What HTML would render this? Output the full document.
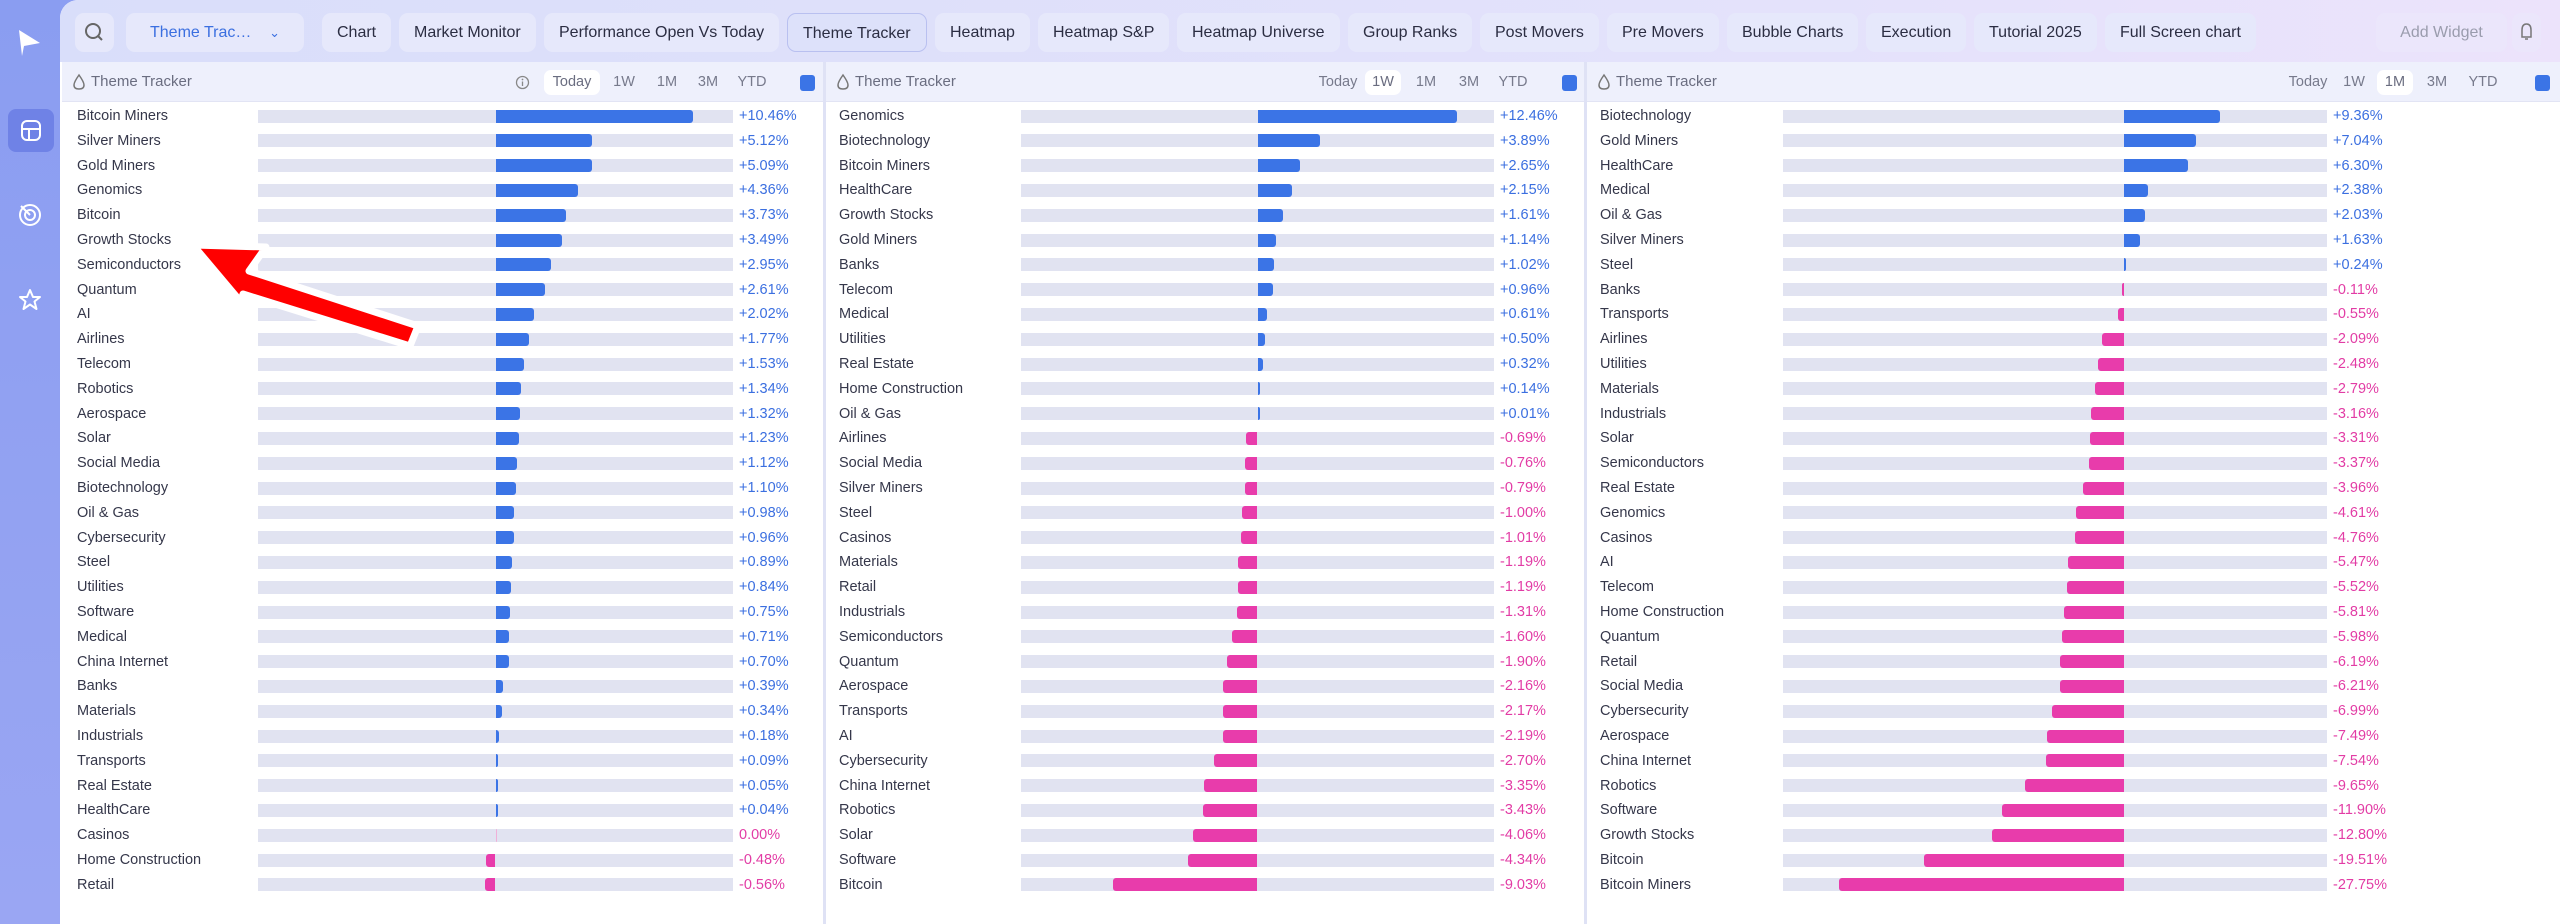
<!DOCTYPE html>
<html><head><meta charset="utf-8">
<style>
*{box-sizing:border-box;margin:0;padding:0}
body{width:2560px;height:924px;overflow:hidden;position:relative;font-family:"Liberation Sans",sans-serif;background:linear-gradient(180deg,#8c9ef2,#a7b0f5);}
.abs{position:absolute}
#sidebar{left:0;top:0;width:60px;height:924px;background:linear-gradient(180deg,#8a9df1,#9aa6f3)}
#main{left:60px;top:0;width:2500px;height:924px;background:#fff;border-top-left-radius:18px;overflow:hidden}
#topbar{left:0;top:0;width:2500px;height:62px;background:linear-gradient(90deg,#d9defa,#e4e2fb 70%,#ece3fb)}
.tab{position:absolute;top:13px;height:39px;line-height:39px;padding:0 15px;font-size:16px;color:#2b2d42;background:#e6e8fb;border-radius:9px;white-space:nowrap}
.panel{position:absolute;top:62px;height:862px;background:#fff}
.phead{position:absolute;left:0;top:0;height:40px;width:100%;background:#eef0fc;border-bottom:1px solid #e2e4f4}
.ptitle{position:absolute;top:0;line-height:40px;font-size:15px;color:#6a6d80}
.pbtn{position:absolute;top:8px;height:25px;line-height:25px;font-size:14.5px;color:#777a8c;text-align:center}
.pbtn.on{background:#fff;border-radius:7px;color:#6a6d80}
.sq{position:absolute;top:13px;width:15px;height:16px;background:#3b74e6;border-radius:3px}
.lbl{position:absolute;font-size:14.5px;color:#35374a;line-height:20px}
.val{position:absolute;font-size:14.5px;line-height:20px}
.trk{position:absolute;height:13px;background:#e1e3f1}
.bar{position:absolute;height:13px;border-radius:3px}
.div{position:absolute;top:62px;width:3px;height:862px;background:#dfe2f5}
</style></head><body>
<div id="sidebar" class="abs">
 <svg class="abs" style="left:16px;top:28px" width="26" height="30"><path d="M3 2 L24 15 L8 18 L6 28 Z" fill="#fff"/></svg>
 <div class="abs" style="left:8px;top:109px;width:46px;height:43px;background:#6f82e6;border-radius:8px">
  <svg width="46" height="43"><rect x="14" y="12" width="18" height="19" rx="5" fill="none" stroke="#fff" stroke-width="2"/><line x1="14" y1="20" x2="32" y2="20" stroke="#fff" stroke-width="2"/><line x1="21" y1="20" x2="21" y2="31" stroke="#fff" stroke-width="2"/></svg></div>
 <svg class="abs" style="left:17px;top:202px" width="26" height="26"><circle cx="13" cy="13" r="10" fill="none" stroke="#fff" stroke-width="2"/><circle cx="13" cy="13" r="5" fill="none" stroke="#fff" stroke-width="2"/><line x1="13" y1="13" x2="4" y2="4" stroke="#fff" stroke-width="2"/></svg>
 <svg class="abs" style="left:17px;top:287px" width="26" height="26"><path d="M13 3 L16 10 L23 10 L17.5 14.5 L19.5 22 L13 17.5 L6.5 22 L8.5 14.5 L3 10 L10 10 Z" fill="none" stroke="#fff" stroke-width="2" stroke-linejoin="round"/></svg>
</div>
<div id="main" class="abs">
 <div id="topbar" class="abs">
  <div class="tab" style="left:15px;width:39px;padding:0"><svg width="39" height="39"><circle cx="18" cy="18" r="7" fill="none" stroke="#666" stroke-width="2"/><line x1="23" y1="23" x2="27" y2="27" stroke="#666" stroke-width="2"/></svg></div>
  <div class="tab" style="left:66px;width:178px;color:#3b6fe0;padding-left:24px">Theme Trac… <span style="position:absolute;right:24px;font-size:13px">⌄</span></div>
  <div class="tab" style="left:2316px;width:131px;color:#9a9cad;background:#ebe6fb;text-align:center">Add Widget</div>
  <div class="tab" style="left:2452px;width:29px;padding:0;background:#ebe6fb"><svg width="29" height="39"><path d="M10 24 L10 17 Q10 11 14.5 11 Q19 11 19 17 L19 24 Z M13 26 L16 26" fill="none" stroke="#777" stroke-width="1.5"/></svg></div>
 </div>
</div>
<div id="panels"></div>
<svg class="abs" style="left:0;top:0" width="2560" height="924">
 <polygon points="193,245 266,247 249,271 418,326 410,346 243,294 241,302" fill="#ff0000" stroke="#fff" stroke-width="7" stroke-linejoin="round"/>
</svg>
<script>
const tabNames=["Chart","Market Monitor","Performance Open Vs Today","Theme Tracker","Heatmap","Heatmap S&P","Heatmap Universe","Group Ranks","Post Movers","Pre Movers","Bubble Charts","Execution","Tutorial 2025","Full Screen chart"];
const labels1=["Bitcoin Miners","Silver Miners","Gold Miners","Genomics","Bitcoin","Growth Stocks","Semiconductors","Quantum","AI","Airlines","Telecom","Robotics","Aerospace","Solar","Social Media","Biotechnology","Oil & Gas","Cybersecurity","Steel","Utilities","Software","Medical","China Internet","Banks","Materials","Industrials","Transports","Real Estate","HealthCare","Casinos","Home Construction","Retail"];
const values1=[10.46,5.12,5.09,4.36,3.73,3.49,2.95,2.61,2.02,1.77,1.53,1.34,1.32,1.23,1.12,1.10,0.98,0.96,0.89,0.84,0.75,0.71,0.70,0.39,0.34,0.18,0.09,0.05,0.04,0.00,-0.48,-0.56];
const labels2=["Genomics","Biotechnology","Bitcoin Miners","HealthCare","Growth Stocks","Gold Miners","Banks","Telecom","Medical","Utilities","Real Estate","Home Construction","Oil & Gas","Airlines","Social Media","Silver Miners","Steel","Casinos","Materials","Retail","Industrials","Semiconductors","Quantum","Aerospace","Transports","AI","Cybersecurity","China Internet","Robotics","Solar","Software","Bitcoin"];
const values2=[12.46,3.89,2.65,2.15,1.61,1.14,1.02,0.96,0.61,0.50,0.32,0.14,0.01,-0.69,-0.76,-0.79,-1.00,-1.01,-1.19,-1.19,-1.31,-1.60,-1.90,-2.16,-2.17,-2.19,-2.70,-3.35,-3.43,-4.06,-4.34,-9.03];
const labels3=["Biotechnology","Gold Miners","HealthCare","Medical","Oil & Gas","Silver Miners","Steel","Banks","Transports","Airlines","Utilities","Materials","Industrials","Solar","Semiconductors","Real Estate","Genomics","Casinos","AI","Telecom","Home Construction","Quantum","Retail","Social Media","Cybersecurity","Aerospace","China Internet","Robotics","Software","Growth Stocks","Bitcoin","Bitcoin Miners"];
const values3=[9.36,7.04,6.30,2.38,2.03,1.63,0.24,-0.11,-0.55,-2.09,-2.48,-2.79,-3.16,-3.31,-3.37,-3.96,-4.61,-4.76,-5.47,-5.52,-5.81,-5.98,-6.19,-6.21,-6.99,-7.49,-7.54,-9.65,-11.90,-12.80,-19.51,-27.75];
const domain1=[-12.55,12.55];
const domain2=[-14.8,14.8];
const domain3=[-33.2,19.8];
const periods=["Today","1W","1M","3M","YTD"];

let tx=262;
const tb=document.getElementById('topbar');
tabNames.forEach((n,i)=>{
  const d=document.createElement('div');d.className='tab';d.textContent=n;
  
  
  d.style.left=tx+'px';
  if(n==="Theme Tracker"){d.style.border='1px solid #b9c0f0';d.style.background='#dde1fa';}
  tb.appendChild(d);
  tx+=d.offsetWidth+8;
});

const panels=[
 {x:62,w:761,labels:labels1,values:values1,dom:domain1,t0:258,t1:733,vx:739,btn:[544,614,657,698,742],sq:800,active:0,info:true},
 {x:826,w:758,labels:labels2,values:values2,dom:domain2,t0:1021,t1:1494,vx:1500,btn:[1310,1373,1416,1459,1503],sq:1562,active:1},
 {x:1587,w:973,labels:labels3,values:values3,dom:domain3,t0:1783,t1:2327,vx:2333,btn:[2280,2344,2385,2427,2473],sq:2535,active:2}
];
const host=document.getElementById('panels');
panels.forEach((p,pi)=>{
  const pn=document.createElement('div');pn.className='panel';
  
  
  pn.style.left=p.x+'px';pn.style.width=p.w+'px';
  host.appendChild(pn);
  const hd=document.createElement('div');hd.className='phead';
  
  
  hd.innerHTML='<svg style="position:absolute;left:10px;top:11px" width="14" height="18"><path d="M7 2 Q12 9 12 12 Q12 16 7 16 Q2 16 2 12 Q2 9 7 2Z" fill="none" stroke="#777" stroke-width="1.5"/></svg>';
  pn.appendChild(hd);
  const tt=document.createElement('div');tt.className='ptitle';tt.textContent='Theme Tracker';tt.style.left='29px';
  
  
  hd.appendChild(tt);
  if(p.info){const ic=document.createElement('div');ic.className='abs';ic.style.left=(515-p.x)+'px';ic.style.top='13px';
    ic.innerHTML='<svg width="15" height="15"><circle cx="7.5" cy="7.5" r="6" fill="none" stroke="#888" stroke-width="1.3"/><line x1="7.5" y1="6.5" x2="7.5" y2="11" stroke="#888" stroke-width="1.3"/><circle cx="7.5" cy="4.5" r="0.9" fill="#888"/></svg>';
    
    
    hd.appendChild(ic);}
  periods.forEach((b,bi)=>{
    const e=document.createElement('div');e.className='pbtn'+(bi===p.active?' on':'');e.textContent=b;
    
    
    const w=bi===0?56:(bi===p.active?36:34);
    e.style.left=(p.btn[bi]-p.x-(bi===0?0:w/2-10))+'px';e.style.width=w+'px';
    hd.appendChild(e);
  });
  const sq=document.createElement('div');sq.className='sq';sq.style.left=(p.sq-p.x)+'px';
  
  
  hd.appendChild(sq);
  const scale=(p.t1-p.t0)/(p.dom[1]-p.dom[0]);
  const xs=v=>p.t0+(v-p.dom[0])*scale-p.x;
  const z=xs(0);
  p.labels.forEach((l,i)=>{
    const cy=54+i*24.8;
    const v=p.values[i];
    const lb=document.createElement('div');lb.className='lbl';lb.textContent=l;
    lb.style.left=(p.x===62?15:13)+'px';lb.style.top=(cy-10)+'px';
    
    
    pn.appendChild(lb);
    const tr=document.createElement('div');tr.className='trk';
    tr.style.left=(p.t0-p.x)+'px';tr.style.width=(p.t1-p.t0)+'px';tr.style.top=(cy-6.5)+'px';
    
    
    pn.appendChild(tr);
    const br=document.createElement('div');br.className='bar';
    const x2=xs(v);
    const w=Math.max(Math.abs(x2-z),v===0?1:2);
    br.style.left=(v>=0?z:z-w)+'px';br.style.width=w+'px';br.style.top=(cy-6.5)+'px';
    br.style.background=v>0?'#3b74e6':(v<0?'#e83cab':'#f0b0d8');
    br.style.borderRadius=v>=0?'0 3px 3px 0':'3px 0 0 3px';
    
    
    pn.appendChild(br);
    const vl=document.createElement('div');vl.className='val';
    vl.textContent=(v>0?'+':'')+v.toFixed(2)+'%';
    vl.style.color=v>0?'#3b6fe0':'#e23ca5';
    vl.style.left=(p.vx-p.x)+'px';vl.style.top=(cy-10)+'px';
    
    
    pn.appendChild(vl);
  });
});
[823,1584].forEach(x=>{const d=document.createElement('div');d.className='div';d.style.left=x+'px';
  
  
  host.appendChild(d);});
</script>
</body></html>
